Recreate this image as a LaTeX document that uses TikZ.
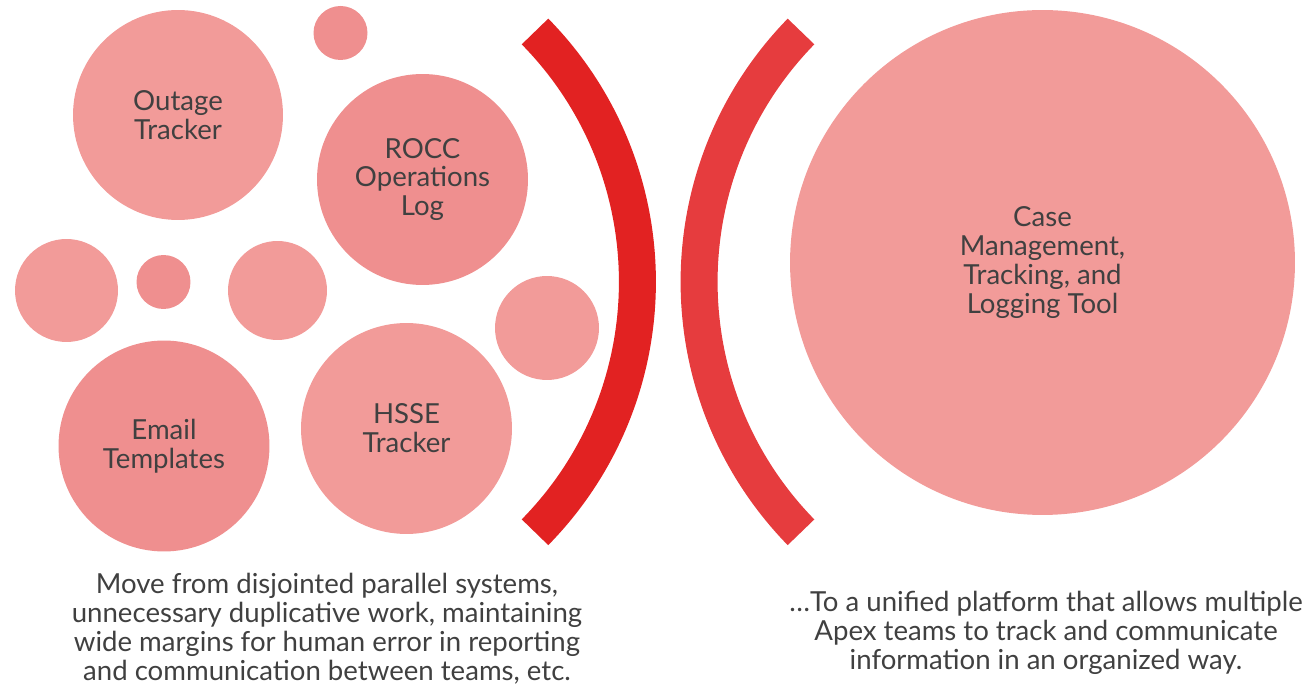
\documentclass[tikz,border=0pt]{standalone}
\usepackage{fontspec}
\setmainfont{Lato}
\usetikzlibrary{positioning}

\definecolor{bubblelight}{HTML}{F29B99}
\definecolor{bubbledark}{HTML}{EF8F8F}
\definecolor{bracketleft}{HTML}{E22222}
\definecolor{bracketright}{HTML}{E63C3E}
\definecolor{textgrey}{HTML}{404040}

\tikzset{
  bubble/.style={circle, inner sep=0pt, minimum size=#1, align=center,
    text=textgrey, font=\fontsize{15.7}{16.4}\selectfont},
  caption/.style={align=center, text=textgrey,
    font=\fontsize{15.7}{16.4}\selectfont},
  bracket/.style={line width=0.74cm, line cap=butt}
}

\begin{document}
\begin{tikzpicture}[x=0.02cm, y=-0.02cm]
        \useasboundingbox (0,0) rectangle (1314,688);

        % old systems
        \node[bubble=4.2cm, fill=bubblelight] (outage) at (178,115) {Outage\\Tracker};
        \node[bubble=1.08cm, fill=bubbledark] (dottop) at (340.5,33) {};
        \node[bubble=4.22cm, fill=bubbledark] (rocc) at (422.5,179.5) {ROCC\\Operations\\Log};
        \node[bubble=2.06cm, fill=bubblelight] (dotleft) at (66.5,290.5) {};
        \node[bubble=1.08cm, fill=bubbledark] (dotsmall) at (163.5,282) {};
        \node[bubble=1.98cm, fill=bubblelight] (dotmid) at (277.5,290.5) {};
        \node[bubble=2.08cm, fill=bubblelight] (dotright) at (547,328) {};
        \node[bubble=4.22cm, fill=bubbledark] (email) at (164,446) {Email\\Templates};
        \node[bubble=4.22cm, fill=bubblelight] (hsse) at (406.5,428.5) {HSSE\\Tracker};

        % new platform
        \node[bubble=10.1cm, fill=bubblelight] (casetool) at (1042.5,262.5)
             {Case\\Management,\\Tracking, and\\Logging Tool};

        % brackets
        \draw[bracket, bracketleft] (535,31.5) arc[start angle=44.5, end angle=-44.5, radius=7.146cm];
        \draw[bracket, bracketright] (801,31.5) arc[start angle=135.7, end angle=224.3, radius=7.172cm];

        % captions
        \node[caption] (before) at (327,628.5) {Move from disjointed parallel systems,\\
             unnecessary duplicative work, maintaining\\
             wide margins for human error in reporting\\
             and communication between teams, etc.};
        \node[caption] (after) at (1046,633) {\ldots To a unified platform that allows multiple\\
             Apex teams to track and communicate\\
             information in an organized way.};
    \end{tikzpicture}
\end{document}
